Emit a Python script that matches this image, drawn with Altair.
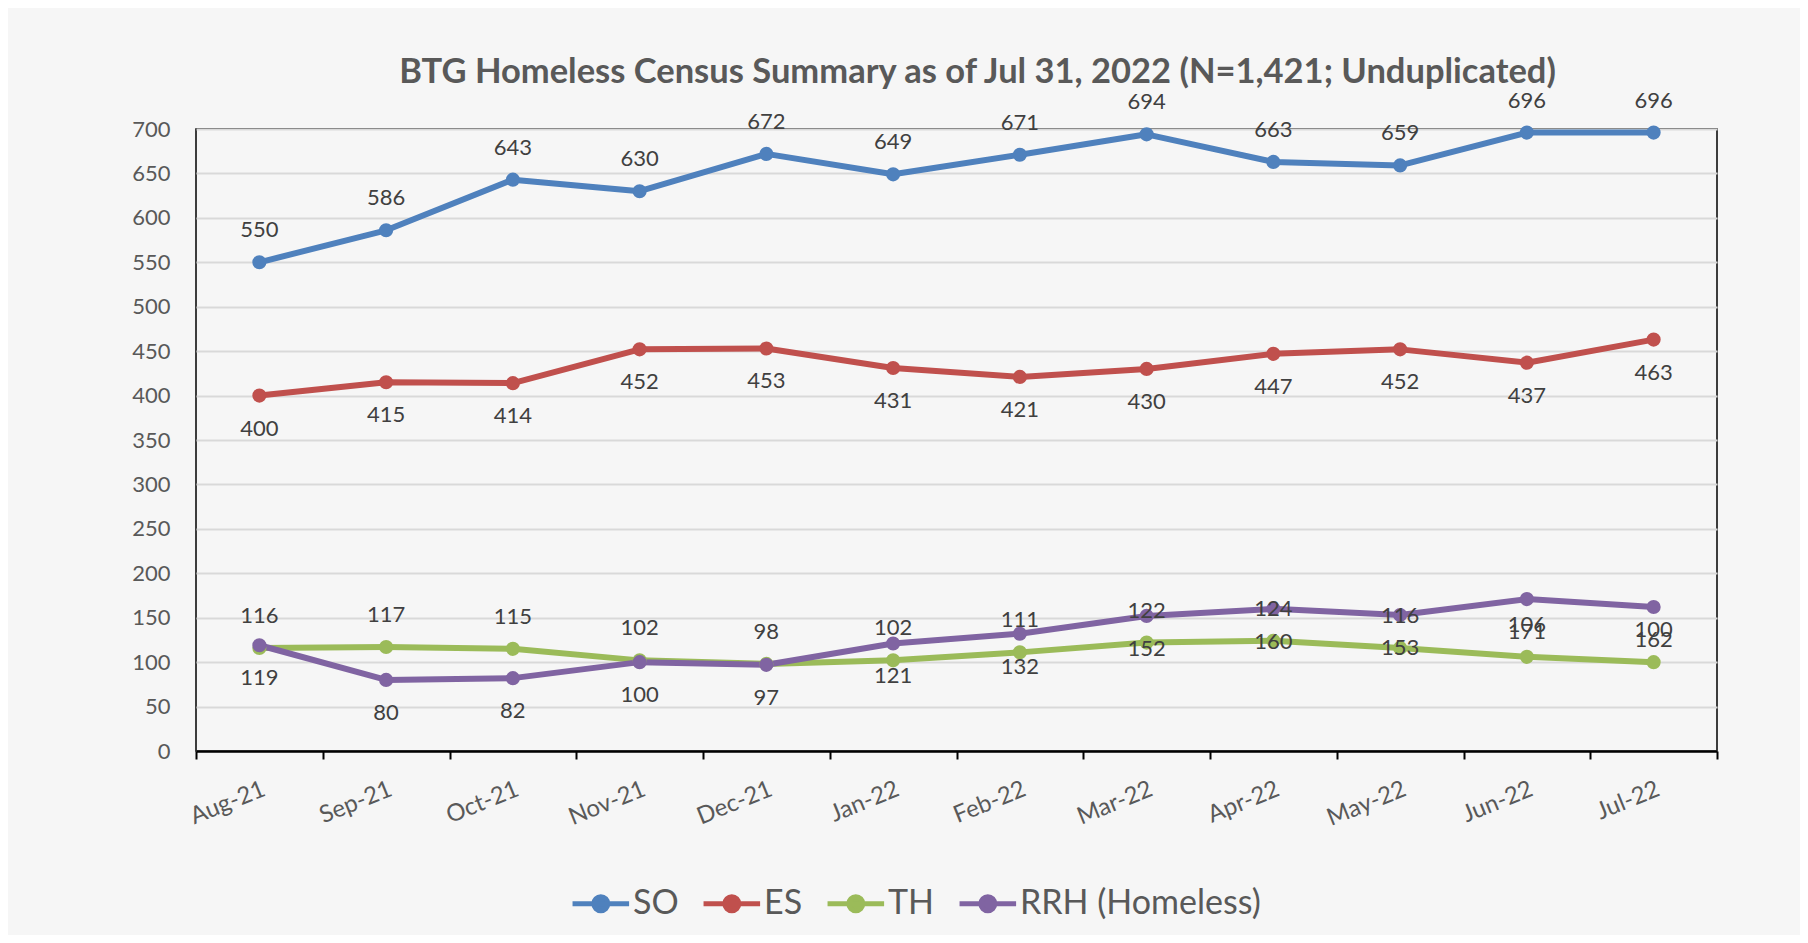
import altair as alt
import pandas as pd

months = ["Aug-21", "Sep-21", "Oct-21", "Nov-21", "Dec-21", "Jan-22",
          "Feb-22", "Mar-22", "Apr-22", "May-22", "Jun-22", "Jul-22"]
so = [550, 586, 643, 630, 672, 649, 671, 694, 663, 659, 696, 696]
es = [400, 415, 414, 452, 453, 431, 421, 430, 447, 452, 437, 463]
th = [116, 117, 115, 102, 98, 102, 111, 122, 124, 116, 106, 100]
rrh = [119, 80, 82, 100, 97, 121, 132, 152, 160, 153, 171, 162]
series_names = ["SO", "ES", "TH", "RRH (Homeless)"]
series_colors = ["#4F81BD", "#C0504D", "#9BBB59", "#8064A2"]
y_ticks = list(range(0, 701, 50))
labels_above = ["SO", "TH"]
labels_below = ["ES", "RRH (Homeless)"]

rows = []
for name, vals in zip(series_names, [so, es, th, rrh]):
    for m, v in zip(months, vals):
        rows.append({"month": m, "series": name, "value": v})
df = pd.DataFrame(rows)

FONT = "Lato"
TXT = "#595959"
BG = "#f6f6f6"

# legend glyph: a short line with a dot in its middle
legend_symbol = ("M-1.07,0H0.95"
                 "M-0.31,0A0.25,0.25,0,1,1,0.19,0A0.25,0.25,0,1,1,-0.31,0Z")

color = alt.Color(
    "series:N",
    scale=alt.Scale(domain=series_names, range=series_colors),
    sort=series_names,
    legend=alt.Legend(
        title=None, orient="none", direction="horizontal", legendX=376, legendY=744,
        columns=4, columnPadding=14, labelFontSize=34, labelColor=TXT, labelFont=FONT,
        symbolType=legend_symbol, symbolSize=3136, symbolStrokeWidth=5,
        labelOffset=0, symbolOpacity=1, labelLimit=0,
    ),
)

base = alt.Chart(df).encode(
    x=alt.X(
        "month:N", sort=months,
        scale=alt.Scale(type="band", paddingInner=0, paddingOuter=0),
        axis=alt.Axis(
            title=None, labelAngle=-22, labelAlign="right", labelBaseline="top",
            labelFontSize=24, labelColor=TXT, labelFont=FONT, labelPadding=18,
            domainColor="black", domainWidth=2.5, tickColor="black", tickWidth=2,
            tickSize=8, tickBand="extent", grid=False,
        ),
    ),
    y=alt.Y(
        "value:Q",
        scale=alt.Scale(domain=[0, 700], nice=False),
        axis=alt.Axis(
            title=None, values=y_ticks, labelFontSize=22, labelColor=TXT, labelFont=FONT,
            ticks=False, domain=False, labelPadding=26, gridColor="#d9d9d9", gridWidth=2,
        ),
    ),
)

lines = base.mark_line(strokeWidth=6, strokeJoin="round", strokeCap="round").encode(color=color)
points = base.mark_point(filled=True, size=200, opacity=1).encode(color=color)

text_above = base.mark_text(dy=-32, fontSize=22, font=FONT, color="#404040").encode(
    text="value:Q"
).transform_filter(alt.FieldOneOfPredicate(field="series", oneOf=labels_above))
text_below = base.mark_text(dy=33, fontSize=22, font=FONT, color="#404040").encode(
    text="value:Q"
).transform_filter(alt.FieldOneOfPredicate(field="series", oneOf=labels_below))

chart = alt.layer(lines, points, text_above, text_below).properties(
    width=1521, height=622,
    autosize=alt.AutoSizeParams(type="none"),
    padding={"left": 188, "top": 121, "right": 83, "bottom": 184},
    title=alt.TitleParams(
        "BTG Homeless Census Summary as of Jul 31, 2022 (N=1,421; Unduplicated)",
        fontSize=34.5, fontWeight="bold", color=TXT, font=FONT, anchor="middle",
        dx=21, dy=13, offset=12,
    ),
    background=BG,
).configure_view(
    stroke="black", strokeWidth=1.5, fill=BG,
)

chart.save("out.html", embed_options={"renderer": "svg", "actions": False})
